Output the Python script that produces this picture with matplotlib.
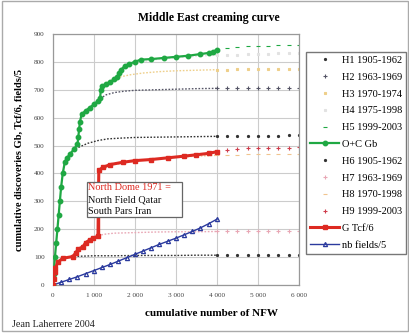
import matplotlib
matplotlib.use("Agg")
import matplotlib.pyplot as plt
import numpy as np
from matplotlib.patches import Rectangle

plt.rcParams['font.family'] = ['Liberation Serif', 'DejaVu Serif']

# ---- data (cumulative NFW, value) ----
oc_x = [0, 20, 50, 80, 110, 140, 170, 200, 240, 290, 340, 420, 520, 600, 620, 640, 660, 700, 800, 900,
        1000, 1100, 1150, 1170, 1200, 1300, 1400, 1500, 1570, 1620, 1650, 1750, 1860, 2000, 2140, 2400,
        2700, 3000, 3300, 3600, 3800, 3900, 4000]
oc_y = [0, 40, 100, 150, 200, 250, 300, 350, 400, 440, 455, 470, 488, 505, 530, 560, 585, 612, 625, 636,
        648, 660, 670, 700, 714, 720, 728, 738, 745, 760, 770, 785, 793, 800, 808, 810,
        814, 818, 822, 828, 832, 836, 843]

g_x = [0, 20, 40, 60, 120, 240, 480, 560, 610, 730, 800, 900, 980, 1100, 1110, 1120, 1220, 1400, 1700,
       2000, 2400, 2800, 3200, 3500, 3800, 4000]
g_y = [0, 20, 45, 60, 82, 96, 102, 115, 128, 137, 152, 162, 168, 175, 300, 411, 422, 432, 440,
       446, 450, 456, 462, 467, 472, 478]

nb_x = [0, 200, 400, 600, 800, 1000, 1200, 1400, 1600, 1800, 2000, 2200, 2400, 2600, 2800, 3000,
        3200, 3400, 3600, 3800, 4000]
nb_y = [0, 10, 20, 30, 41, 52, 63, 74, 86, 98, 110, 122, 134, 146, 157, 168, 180, 192, 205, 220, 236]

h1_x = [480, 600, 850, 1100, 1340, 1700, 2000, 2500, 3000, 3500, 4000, 4250, 4500, 4750, 5000, 5250, 5500, 5750, 6000]
h1_y = [482, 492, 508, 518, 524, 527, 529, 530, 531, 532, 533, 534, 534, 535, 535, 536, 536, 537, 537]

h2_x = [1150, 1300, 1500, 1750, 2000, 2500, 3000, 3500, 4000, 4250, 4500, 4750, 5000, 5250, 5500, 5750, 6000]
h2_y = [668, 682, 690, 695, 698, 700, 702, 704, 705, 705, 706, 706, 707, 707, 707, 708, 708]

h3_x = [1200, 1400, 1600, 1900, 2200, 2600, 3000, 3500, 4000, 4250, 4500, 4750, 5000, 5250, 5500, 5750, 6000]
h3_y = [714, 732, 745, 754, 760, 765, 768, 770, 772, 772, 773, 773, 774, 774, 775, 775, 776]

h4_x = [1650, 2000, 2500, 3000, 3500, 4000, 4250, 4500, 4750, 5000, 5250, 5500, 5750, 6000]
h4_y = [770, 795, 808, 815, 820, 824, 825, 826, 827, 828, 829, 830, 830, 831]

h5_x = [4000, 4250, 4500, 4750, 5000, 5250, 5500, 5750, 6000]
h5_y = [846, 851, 854, 856, 857, 858, 859, 860, 861]

h6_x = [600, 800, 1000, 1500, 2000, 2500, 3000, 3500, 4000, 4250, 4500, 4750, 5000, 5250, 5500, 5750, 6000]
h6_y = [103, 104, 105, 105, 106, 106, 106, 107, 107, 107, 107, 107, 108, 108, 108, 108, 108]

h7_x = [1100, 1300, 1500, 2000, 2500, 3000, 3500, 4000, 4250, 4500, 4750, 5000, 5250, 5500, 5750, 6000]
h7_y = [178, 183, 186, 188, 190, 191, 191, 192, 192, 192, 193, 193, 193, 194, 194, 194]

h8_x = [1200, 1500, 2000, 2500, 3000, 3500, 4000, 4250, 4500, 4750, 5000, 5250, 5500, 5750, 6000]
h8_y = [415, 432, 445, 452, 458, 462, 465, 466, 467, 468, 469, 470, 470, 471, 471]

h9_x = [4000, 4250, 4500, 4750, 5000, 5250, 5500, 5750, 6000]
h9_y = [478, 484, 488, 490, 491, 492, 493, 493, 494]

xticks = [0, 1000, 2000, 3000, 4000, 5000, 6000]
xtick_labels = ["0", "1 000", "2 000", "3 000", "4 000", "5 000", "6 000"]
yticks = [0, 100, 200, 300, 400, 500, 600, 700, 800, 900]

# ---- figure ----
fig = plt.figure(figsize=(4.10, 3.33), dpi=100)
fig.patch.set_facecolor('white')
ax = fig.add_axes([0.129, 0.144, 0.600, 0.754])

GREEN = '#1fa843'
RED = '#dd2a22'
BLUE = '#2b3a9e'

def hyper(xs, ys, color, marker, label, ms=2.5, mew=0.8):
    xs = np.asarray(xs); ys = np.asarray(ys)
    m = xs <= 4000
    if m.sum() > 1:
        ax.plot(xs[m], ys[m], linestyle=(0, (1.2, 1.2)), color=color, linewidth=1.0, zorder=2)
    ax.plot(xs[xs >= 4000], ys[xs >= 4000], linestyle='none', marker=marker, color=color,
            markersize=ms, markeredgewidth=mew, label=label, zorder=2)

hyper(h1_x, h1_y, '#333333', '.', 'H1 1905-1962', ms=3)
hyper(h2_x, h2_y, '#555566', '+', 'H2 1963-1969')
hyper(h3_x, h3_y, '#eecf8a', 's', 'H3 1970-1974', ms=1.8)
hyper(h4_x, h4_y, '#e2e2e2', 's', 'H4 1975-1998', ms=1.8)
hyper(h5_x, h5_y, GREEN, '_', 'H5 1999-2003', ms=3.5)

ax.plot(oc_x, oc_y, color=GREEN, linewidth=1.6, marker='o', markersize=3.2, label='O+C Gb', zorder=4)

hyper(h6_x, h6_y, '#333333', '.', 'H6 1905-1962', ms=3)
hyper(h7_x, h7_y, '#e8a7b5', '+', 'H7 1963-1969')
hyper(h8_x, h8_y, '#f1c48e', '_', 'H8 1970-1998', ms=3.5)
hyper(h9_x, h9_y, '#cf3d4c', '+', 'H9 1999-2003')

ax.plot(g_x, g_y, color=RED, linewidth=2.2, marker='s', markersize=3.2, label='G Tcf/6', zorder=4)
ax.plot(nb_x, nb_y, color=BLUE, linewidth=1.0, marker='^', markersize=3.0, markerfacecolor='none',
        markeredgewidth=0.9, label='nb fields/5', zorder=3)

ax.set_xlim(0, 6000)
ax.set_ylim(0, 900)
ax.set_xticks(xticks)
ax.set_xticklabels(xtick_labels)
ax.set_yticks(yticks)
ax.tick_params(labelsize=5.2, colors='#444444', length=0, pad=6)
ax.grid(True, color='#cccccc', linewidth=0.8)
ax.set_axisbelow(True)
for s in ax.spines.values():
    s.set_color('#999999')
    s.set_linewidth(0.9)

ax.set_ylabel('cumulative discoveries Gb, Tcf/6, fields/5', fontsize=7.6, fontweight='bold', labelpad=7)
fig.text(0.517, 0.06, 'cumulative number of NFW', fontsize=8, fontweight='bold', ha='center', va='center')
fig.text(0.51, 0.946, 'Middle East creaming curve', fontsize=8.5, fontweight='bold', ha='center', va='center')
fig.text(0.029, 0.025, 'Jean Laherrere 2004', fontsize=7.3, ha='left', va='center', color='#222222')

# annotation box
ax.plot([1130, 1130], [176, 262], color=RED, linewidth=1.0, zorder=3)
ax.text(860, 364, 'North Dome 1971 =', color=RED, fontsize=7.4, ha='left', va='top', zorder=6)
ax.text(860, 322, 'North Field Qatar', color='#111111', fontsize=7.4, ha='left', va='top', zorder=6)
ax.text(860, 280, 'South Pars Iran', color='#111111', fontsize=7.4, ha='left', va='top', zorder=6)
ax.add_patch(Rectangle((820, 245), 2330, 125, facecolor='white', edgecolor='#666666',
                       linewidth=0.9, zorder=5))

leg = fig.legend(loc='upper left', bbox_to_anchor=(0.746, 0.845), bbox_transform=fig.transFigure,
                 fontsize=7.5, frameon=True, fancybox=False, edgecolor='#555555',
                 handlelength=2.8, handletextpad=0.25, labelspacing=0.72, borderpad=0.4,
                 borderaxespad=0)
leg.get_frame().set_linewidth(1.0)

fig.add_artist(Rectangle((0.004, 0.006), 0.992, 0.99, transform=fig.transFigure, fill=False,
                         edgecolor='#aaaaaa', linewidth=1.0))

fig.savefig('out.png', dpi=100)
